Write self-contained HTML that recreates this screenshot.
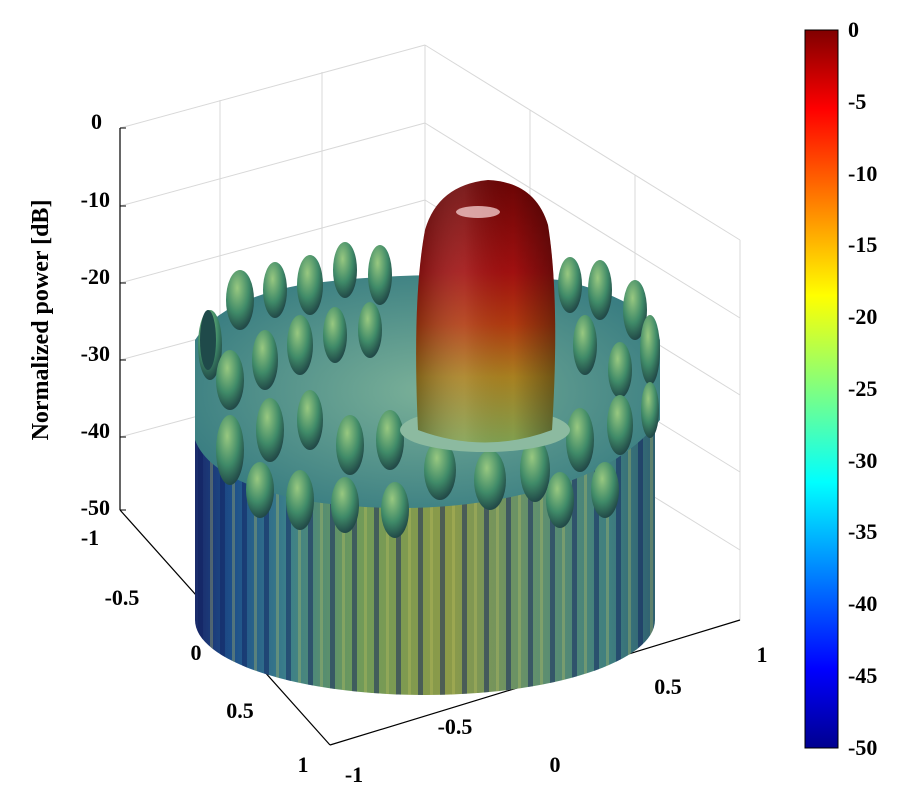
<!DOCTYPE html>
<html><head><meta charset="utf-8"><style>
body{margin:0;background:#fff;}
svg text{font-family:"Liberation Serif",serif;font-weight:bold;fill:#000;}
</style></head><body>
<svg width="900" height="800" viewBox="0 0 900 800" xmlns="http://www.w3.org/2000/svg">
<defs>
<linearGradient id="cb" x1="0" y1="0" x2="0" y2="1">
<stop offset="0" stop-color="#800000"/><stop offset="0.11" stop-color="#ff0000"/>
<stop offset="0.37" stop-color="#ffff00"/><stop offset="0.5" stop-color="#80ff80"/>
<stop offset="0.63" stop-color="#00ffff"/><stop offset="0.89" stop-color="#0000ff"/>
<stop offset="1" stop-color="#00008f"/></linearGradient>
<linearGradient id="wall" x1="0" y1="0" x2="1" y2="0">
<stop offset="0" stop-color="#1a2a6a"/><stop offset="0.08" stop-color="#1d4f8a"/>
<stop offset="0.2" stop-color="#3b7f8a"/><stop offset="0.35" stop-color="#6f9a5a"/>
<stop offset="0.55" stop-color="#8c9a48"/><stop offset="0.75" stop-color="#5f8f6f"/>
<stop offset="0.9" stop-color="#3f7f80"/><stop offset="1" stop-color="#2f6070"/></linearGradient>
<pattern id="str" width="22" height="10" patternUnits="userSpaceOnUse">
<rect x="0" width="5" height="10" fill="#102060" opacity="0.5"/>
<rect x="12" width="3" height="10" fill="#c8c860" opacity="0.3"/></pattern>
<linearGradient id="beam" x1="0" y1="0" x2="0" y2="1">
<stop offset="0" stop-color="#6a0505"/><stop offset="0.35" stop-color="#a01010"/>
<stop offset="0.55" stop-color="#b03a10"/><stop offset="0.75" stop-color="#a88020"/>
<stop offset="1" stop-color="#80a050"/></linearGradient>
<linearGradient id="beamh" x1="0" y1="0" x2="1" y2="0">
<stop offset="0" stop-color="#000" stop-opacity="0.25"/><stop offset="0.35" stop-color="#fff" stop-opacity="0.1"/>
<stop offset="0.7" stop-color="#000" stop-opacity="0"/><stop offset="1" stop-color="#000" stop-opacity="0.35"/></linearGradient>
<radialGradient id="pk" cx="0.4" cy="0.3" r="0.7">
<stop offset="0" stop-color="#98c880"/><stop offset="0.6" stop-color="#3f8a68"/><stop offset="1" stop-color="#224a48"/></radialGradient>
<radialGradient id="topg" cx="0.5" cy="0.5" r="0.6">
<stop offset="0" stop-color="#7ab098"/><stop offset="1" stop-color="#357a80"/></radialGradient>
</defs>
<g stroke="#d8d8d8" stroke-width="1" fill="none">
<line x1="120" y1="128" x2="425" y2="45"/><line x1="425" y1="45" x2="740" y2="240"/>
<line x1="220" y1="100" x2="220" y2="360"/><line x1="322" y1="72" x2="322" y2="360"/>
<line x1="425" y1="45" x2="425" y2="400"/>
<line x1="530" y1="110" x2="530" y2="400"/><line x1="635" y1="175" x2="635" y2="420"/>
<line x1="740" y1="240" x2="740" y2="620"/>
<line x1="120" y1="206" x2="425" y2="123"/><line x1="425" y1="123" x2="740" y2="318"/>
<line x1="120" y1="283" x2="425" y2="200"/><line x1="425" y1="200" x2="740" y2="395"/>
<line x1="120" y1="360" x2="425" y2="278"/><line x1="425" y1="278" x2="740" y2="472"/>
<line x1="120" y1="437" x2="425" y2="355"/><line x1="425" y1="355" x2="740" y2="550"/>
</g>
<g stroke="#000" stroke-width="1.2" fill="none">
<line x1="120" y1="128" x2="120" y2="510"/>
<line x1="120" y1="510" x2="330" y2="745"/><line x1="330" y1="745" x2="740" y2="620"/>
</g>
<g stroke="#000" stroke-width="1">
<line x1="120" y1="128" x2="126" y2="128"/><line x1="120" y1="206" x2="126" y2="206"/>
<line x1="120" y1="283" x2="126" y2="283"/><line x1="120" y1="360" x2="126" y2="360"/>
<line x1="120" y1="437" x2="126" y2="437"/><line x1="120" y1="510" x2="126" y2="510"/>
</g>
<path d="M195 380 L195 620 A230 75 0 0 0 655 620 L655 380 Z" fill="url(#wall)"/>
<path d="M195 380 L195 620 A230 75 0 0 0 655 620 L655 380 Z" fill="url(#str)"/>
<path d="M195 340 Q220 300 300 285 Q420 268 560 280 Q650 300 660 340 L660 420 Q620 470 540 490 Q430 520 300 500 Q210 480 195 440 Z" fill="url(#topg)"/>
<g fill="url(#pk)">
<ellipse cx="210" cy="345" rx="12" ry="35"/><ellipse cx="240" cy="300" rx="14" ry="30"/>
<ellipse cx="275" cy="290" rx="12" ry="28"/><ellipse cx="310" cy="285" rx="13" ry="30"/>
<ellipse cx="345" cy="270" rx="12" ry="28"/><ellipse cx="380" cy="275" rx="12" ry="30"/>
<ellipse cx="570" cy="285" rx="12" ry="28"/><ellipse cx="600" cy="290" rx="12" ry="30"/>
<ellipse cx="635" cy="310" rx="12" ry="30"/><ellipse cx="650" cy="350" rx="10" ry="35"/>
<ellipse cx="230" cy="380" rx="14" ry="30"/><ellipse cx="265" cy="360" rx="13" ry="30"/>
<ellipse cx="300" cy="345" rx="13" ry="30"/><ellipse cx="335" cy="335" rx="12" ry="28"/>
<ellipse cx="370" cy="330" rx="12" ry="28"/><ellipse cx="585" cy="345" rx="12" ry="30"/>
<ellipse cx="620" cy="370" rx="12" ry="28"/>
<ellipse cx="230" cy="450" rx="14" ry="35"/><ellipse cx="270" cy="430" rx="14" ry="32"/>
<ellipse cx="310" cy="420" rx="13" ry="30"/><ellipse cx="350" cy="445" rx="14" ry="30"/>
<ellipse cx="390" cy="440" rx="14" ry="30"/><ellipse cx="440" cy="470" rx="16" ry="30"/>
<ellipse cx="490" cy="480" rx="16" ry="30"/><ellipse cx="535" cy="470" rx="15" ry="32"/>
<ellipse cx="580" cy="440" rx="14" ry="32"/><ellipse cx="620" cy="425" rx="13" ry="30"/>
<ellipse cx="650" cy="410" rx="9" ry="28"/>
<ellipse cx="260" cy="490" rx="14" ry="28"/><ellipse cx="300" cy="500" rx="14" ry="30"/>
<ellipse cx="345" cy="505" rx="14" ry="28"/><ellipse cx="395" cy="510" rx="14" ry="28"/>
<ellipse cx="560" cy="500" rx="14" ry="28"/><ellipse cx="605" cy="490" rx="14" ry="28"/>
</g>
<ellipse cx="208" cy="340" rx="8" ry="30" fill="#1f4a4a"/>
<ellipse cx="485" cy="430" rx="85" ry="22" fill="#8cbaa0"/>
<path d="M418 430 Q412 300 425 230 Q438 185 488 180 Q535 182 548 225 Q560 300 552 430 Q485 455 418 430 Z" fill="url(#beam)"/>
<path d="M418 430 Q412 300 425 230 Q438 185 488 180 Q535 182 548 225 Q560 300 552 430 Q485 455 418 430 Z" fill="url(#beamh)"/>
<ellipse cx="478" cy="212" rx="22" ry="6" fill="#f0c8c8" opacity="0.8"/>
<g font-size="22" text-anchor="end">
<text x="102" y="129">0</text><text x="110" y="207">-10</text><text x="110" y="284">-20</text>
<text x="110" y="361">-30</text><text x="110" y="438">-40</text><text x="110" y="515">-50</text>
</g>
<text x="48" y="320" font-size="24" text-anchor="middle" transform="rotate(-90 48 320)">Normalized power [dB]</text>
<g font-size="22" text-anchor="middle">
<text x="90" y="545">-1</text><text x="122" y="605">-0.5</text><text x="196" y="660">0</text>
<text x="240" y="718">0.5</text><text x="303" y="772">1</text>
<text x="354" y="782">-1</text><text x="455" y="734">-0.5</text><text x="555" y="772">0</text>
<text x="668" y="694">0.5</text><text x="762" y="662">1</text>
</g>
<rect x="805" y="30" width="33" height="718" fill="url(#cb)" stroke="#000" stroke-width="1"/>
<g font-size="22" text-anchor="start">
<text x="848" y="37">0</text><text x="848" y="109">-5</text><text x="848" y="181">-10</text>
<text x="848" y="252">-15</text><text x="848" y="324">-20</text><text x="848" y="396">-25</text>
<text x="848" y="468">-30</text><text x="848" y="539">-35</text><text x="848" y="611">-40</text>
<text x="848" y="683">-45</text><text x="848" y="755">-50</text>
</g>
</svg>
</body></html>
